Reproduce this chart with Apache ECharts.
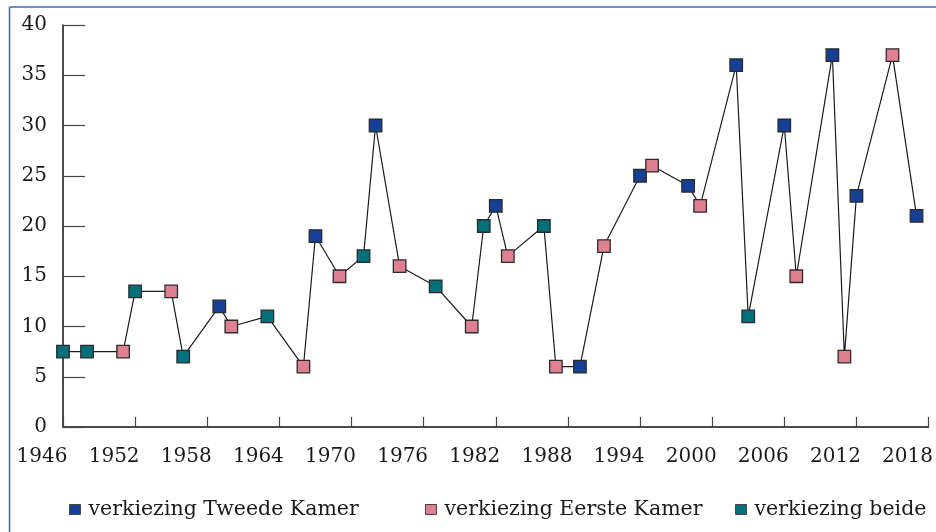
<!DOCTYPE html>
<html>
<head>
<meta charset="utf-8">
<script src="https://cdn.jsdelivr.net/npm/echarts@6/dist/echarts.min.js"></script>
<style>
html,body{margin:0;padding:0;background:#fff;}
#chart{width:936px;height:532px;}
</style>
</head>
<body>
<div id="chart"></div>
<script>
// Data
const xTicks = [1946, 1952, 1958, 1964, 1970, 1976, 1982, 1988, 1994, 2000, 2006, 2012, 2018];
const yTicks = [0, 5, 10, 15, 20, 25, 30, 35, 40];

const tweedeYears  = [1959, 1967, 1972, 1982, 1989, 1994, 1998, 2002, 2006, 2010, 2012, 2017];
const tweedeValues = [12, 19, 30, 22, 6, 25, 24, 36, 30, 37, 23, 21];

const eersteYears  = [1951, 1955, 1960, 1966, 1969, 1974, 1980, 1983, 1987, 1991, 1995, 1999, 2007, 2011, 2015];
const eersteValues = [7.5, 13.5, 10, 6, 15, 16, 10, 17, 6, 18, 26, 22, 15, 7, 37];

const beideYears  = [1946, 1948, 1952, 1956, 1963, 1971, 1977, 1981, 1986, 2003];
const beideValues = [7.5, 7.5, 13.5, 7, 11, 17, 14, 20, 20, 11];

const names = ['verkiezing Tweede Kamer', 'verkiezing Eerste Kamer', 'verkiezing beide'];
const colors = ['#163f96', '#df7f92', '#00707a'];

const zip = (xs, ys) => xs.map((x, i) => [x, ys[i]]);
const tweede = zip(tweedeYears, tweedeValues);
const eerste = zip(eersteYears, eersteValues);
const beide = zip(beideYears, beideValues);
const allPts = tweede.concat(eerste, beide).sort((a, b) => a[0] - b[0]);

const FONT = 'DejaVu Serif';
const TXT = '#1a1a1a';

const chart = echarts.init(document.getElementById('chart'), null, {renderer: 'canvas'});

function scatter(name, data, color) {
  return {
    name: name, type: 'scatter', data: data, z: 3,
    symbol: 'rect', symbolSize: 12.5,
    itemStyle: {color: color, borderColor: '#2b2b2b', borderWidth: 1.3, opacity: 1},
    emphasis: {disabled: true}
  };
}

function legendAt(name, left) {
  return {
    data: [name], left: left, top: 499,
    icon: 'rect', itemWidth: 11, itemHeight: 10,
    itemStyle: {borderColor: '#444', borderWidth: 1},
    textStyle: {fontFamily: FONT, fontSize: 20.5, color: TXT, padding: [0, 0, 0, 3]},
    selectedMode: false, padding: 0
  };
}

chart.setOption({
  animation: false,
  backgroundColor: '#ffffff',
  grid: {left: 63, right: 7, top: 25, bottom: 105, containLabel: false},
  xAxis: {
    type: 'value', min: xTicks[0], max: xTicks[xTicks.length - 1], interval: 6,
    axisLine: {show: true, lineStyle: {color: '#111', width: 1.5}},
    axisTick: {show: true, inside: true, length: 10, lineStyle: {color: '#444', width: 1.2}},
    splitLine: {show: false},
    axisLabel: {
      fontFamily: FONT, fontSize: 20, color: TXT, margin: 20,
      padding: [0, 42, 0, 0],
      formatter: v => String(v),
      showMinLabel: true, showMaxLabel: true
    }
  },
  yAxis: {
    type: 'value', min: yTicks[0], max: yTicks[yTicks.length - 1], interval: 5,
    axisLine: {show: true, lineStyle: {color: '#111', width: 1.5}},
    axisTick: {show: true, inside: true, length: 22, lineStyle: {color: '#444', width: 1.2}},
    splitLine: {show: false},
    axisLabel: {fontFamily: FONT, fontSize: 20, color: TXT, margin: 16, padding: [0, 0, 3, 0]}
  },
  legend: [
    legendAt(names[0], 69),
    legendAt(names[1], 425),
    legendAt(names[2], 735)
  ],
  graphic: [
    {type: 'line', shape: {x1: 9.5, y1: 7, x2: 936, y2: 7}, style: {stroke: '#4169b0', lineWidth: 1.5}, z: 100},
    {type: 'line', shape: {x1: 9.5, y1: 7, x2: 9.5, y2: 532}, style: {stroke: '#4169b0', lineWidth: 1.5}, z: 100}
  ],
  series: [
    {
      type: 'line', data: allPts, showSymbol: false, z: 2,
      lineStyle: {color: '#1a1a1a', width: 1.2},
      emphasis: {disabled: true}, silent: true
    },
    scatter(names[0], tweede, colors[0]),
    scatter(names[1], eerste, colors[1]),
    scatter(names[2], beide, colors[2])
  ]
});
</script>
</body>
</html>
